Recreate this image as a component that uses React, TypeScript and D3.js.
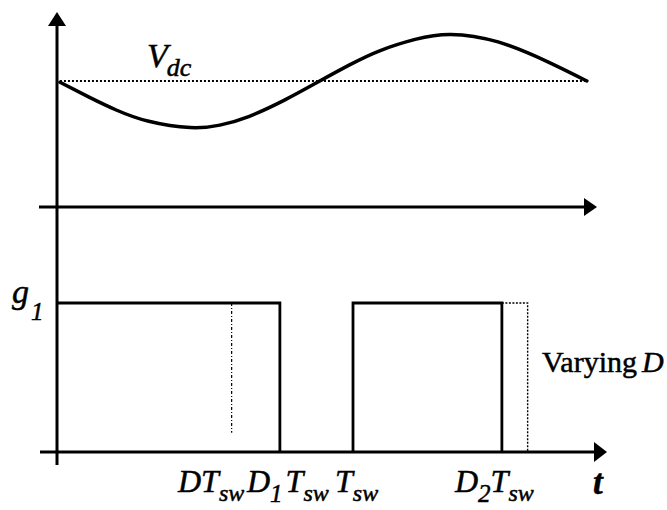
import React from "react";
import * as d3 from "d3";

// Capacitor voltage ripple around Vdc over about 1.8 switching periods (t in units of Tsw, v in units of Vdc)
const rippleT = [0.01, 0.11, 0.2, 0.31, 0.45, 0.55, 0.65, 0.77, 0.88, 0.99, 1.09, 1.21, 1.33, 1.49, 1.66, 1.79];
const rippleV = [0.99, 0.87, 0.77, 0.68, 0.63, 0.65, 0.72, 0.85, 0.99, 1.13, 1.24, 1.33, 1.37, 1.31, 1.15, 1.0];
const VDC = 1;
const VDC_SPAN = [0.01, 1.79];

// Duty cycles of the gate signal g1
const D = 0.59;
const D1 = 0.753;
const D2 = 0.503;
const TSW = 1;

const W = 667;
const H = 510;

const x = d3.scaleLinear().domain([0, TSW]).range([57, 353]);
const yV = d3.scaleLinear().domain([0, VDC]).range([207, 81]);
const yG = d3.scaleLinear().domain([0, 1]).range([452, 303]);

const serif = "'Liberation Serif', 'Times New Roman', serif";

export default function App() {
  const ripple = d3
    .line<number>()
    .x((_, i) => x(rippleT[i]))
    .y((v) => yV(v))
    .curve(d3.curveNatural)(rippleV) as string;

  const pulse1 = d3.line()([
    [x(0), yG(1)],
    [x(D1 * TSW), yG(1)],
    [x(D1 * TSW), yG(0)],
  ]) as string;
  const pulse2 = d3.line()([
    [x(TSW), yG(0)],
    [x(TSW), yG(1)],
    [x(TSW + D2 * TSW), yG(1)],
    [x(TSW + D2 * TSW), yG(0)],
  ]) as string;
  const varying = d3.line()([
    [x(TSW + D2 * TSW), yG(1)],
    [x(TSW + D * TSW), yG(1)],
    [x(TSW + D * TSW), yG(0)],
  ]) as string;

  const axisX0 = x(0);
  const stroke = "#000";
  const textInk = { stroke: "#000", strokeWidth: 0.5 };

  return (
    <svg
      width={W}
      height={H}
      viewBox={`0 0 ${W} ${H}`}
      style={{ position: "absolute", left: 0, top: 0, background: "#fff" }}
      fontFamily={serif}
    >
      <rect width={W} height={H} fill="#fff" />

      {/* vertical axis */}
      <line x1={axisX0} y1={20} x2={axisX0} y2={465} stroke={stroke} strokeWidth={3} />
      <path d={`M${axisX0},12 L${axisX0 - 9},26 L${axisX0 + 9},26 Z`} fill={stroke} />

      {/* time axis of the voltage panel */}
      <line x1={39} y1={yV(0)} x2={590} y2={yV(0)} stroke={stroke} strokeWidth={3} />
      <path d={`M597,${yV(0)} L584,${yV(0) - 9} L584,${yV(0) + 9} Z`} fill={stroke} />

      {/* time axis of the gate panel */}
      <line x1={40} y1={yG(0)} x2={600} y2={yG(0)} stroke={stroke} strokeWidth={3} />
      <path d={`M607,${yG(0)} L594,${yG(0) - 10} L594,${yG(0) + 10} Z`} fill={stroke} />

      {/* Vdc reference level */}
      <line
        x1={x(VDC_SPAN[0])}
        y1={yV(VDC)}
        x2={x(VDC_SPAN[1])}
        y2={yV(VDC)}
        stroke={stroke}
        strokeWidth={2}
        strokeDasharray="2 2"
      />
      {/* voltage ripple */}
      <path d={ripple} fill="none" stroke={stroke} strokeWidth={3.5} strokeLinecap="round" />

      {/* gate pulses */}
      <path d={pulse1} fill="none" stroke={stroke} strokeWidth={2.8} />
      <path d={pulse2} fill="none" stroke={stroke} strokeWidth={2.8} />
      <path d={varying} fill="none" stroke={stroke} strokeWidth={1.4} strokeDasharray="2 1.5" />
      <line
        x1={x(D * TSW)}
        y1={yG(1)}
        x2={x(D * TSW)}
        y2={yG(0.13)}
        stroke={stroke}
        strokeWidth={1.2}
        strokeDasharray="3 2 1 2"
      />

      {/* labels */}
      <g {...textInk}>
        <text x={147} y={67} fontSize={34} fontStyle="italic">
          V
          <tspan fontSize={26} dx={-1} dy={9}>dc</tspan>
        </text>
        <text x={12} y={303} fontSize={34} fontStyle="italic">
          g
          <tspan fontSize={25} dx={2} dy={17}>1</tspan>
        </text>
        <text x={542} y={372} fontSize={30}>
          Varying<tspan fontStyle="italic" dx={5}>D</tspan>
        </text>

        <text x={178} y={492} fontSize={32} fontStyle="italic">
          DT<tspan fontSize={24} dy={9}>sw</tspan>
        </text>
        <text x={247} y={492} fontSize={32} fontStyle="italic">
          D<tspan fontSize={25} dy={10}>1</tspan>
          <tspan dy={-10} dx={3}>T</tspan>
          <tspan fontSize={24} dy={9}>sw</tspan>
        </text>
        <text x={335} y={492} fontSize={32} fontStyle="italic">
          T<tspan fontSize={24} dy={9}>sw</tspan>
        </text>
        <text x={455} y={492} fontSize={32} fontStyle="italic">
          D<tspan fontSize={25} dy={10}>2</tspan>
          <tspan dy={-10}>T</tspan>
          <tspan fontSize={24} dy={9}>sw</tspan>
        </text>
        <text x={593} y={494} fontSize={35} fontStyle="italic" fontWeight="bold">
          t
        </text>
      </g>
    </svg>
  );
}
